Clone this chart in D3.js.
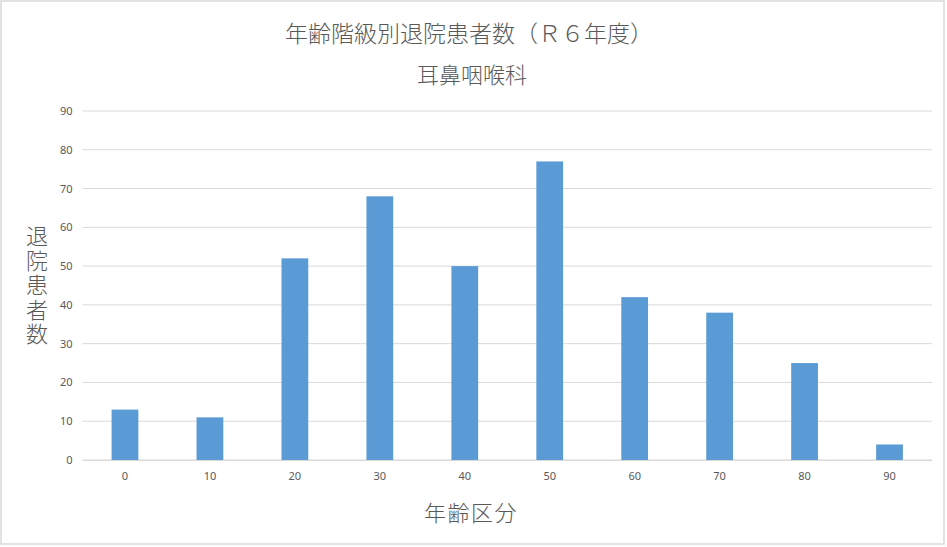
<!DOCTYPE html>
<html><head><meta charset="utf-8">
<script src="https://cdn.jsdelivr.net/npm/d3@7"></script>
<style>
html,body{margin:0;padding:0;background:#fff;}
svg{display:block;}
text{font-family:"Noto Sans CJK JP","Noto Sans",sans-serif;fill:#595959;}
</style></head>
<body>
<svg id="c" width="947" height="547"></svg>
<script>
const categories = ["0","10","20","30","40","50","60","70","80","90"];
const values = [13, 11, 52, 68, 50, 77, 42, 38, 25, 4];
const yTicks = [0,10,20,30,40,50,60,70,80,90];
const title = "年齢階級別退院患者数（Ｒ６年度）";
const subtitle = "耳鼻咽喉科";
const xTitle = "年齢区分";
const yTitle = "退院患者数";

const svg = d3.select("#c");
svg.append("rect").attr("x",1).attr("y",1).attr("width",943).attr("height",543)
  .attr("fill","#fff").attr("stroke","#d9d9d9").attr("stroke-width",1.5);

const pLeft = 82.5, pRight = 932, pTop = 111, pBottom = 460;
const x = d3.scaleBand().domain(categories).range([pLeft, pRight]).paddingInner(0.685).paddingOuter(0.3425);
const y = d3.scaleLinear().domain([0, 90]).range([pBottom, pTop]);

// gridlines
svg.append("g").selectAll("line").data(yTicks).join("line")
  .attr("x1", pLeft).attr("x2", pRight)
  .attr("y1", d => y(d)).attr("y2", d => y(d))
  .attr("stroke", "#d9d9d9").attr("stroke-width", 1);

// y axis labels
const yAxis = d3.axisLeft(y).tickValues(yTicks).tickSize(0).tickPadding(10);
const gy = svg.append("g").attr("transform", `translate(${pLeft},0)`).call(yAxis);
gy.select(".domain").remove();
gy.selectAll("text").style("font-size","11px").style("font-family","'Noto Sans','DejaVu Sans',sans-serif").attr("fill","#595959");

// bars
svg.append("g").selectAll("rect").data(values).join("rect")
  .attr("x", (d,i) => x(categories[i]))
  .attr("width", x.bandwidth())
  .attr("y", d => y(d))
  .attr("height", d => y(0) - y(d))
  .attr("fill", "#5b9bd5");

// x axis
const xAxis = d3.axisBottom(x).tickSize(0).tickPadding(12);
const gx = svg.append("g").attr("transform", `translate(0,${pBottom})`).call(xAxis);
gx.select(".domain").attr("stroke","#d9d9d9").attr("stroke-width",1);
gx.selectAll("text").style("font-size","11px").style("font-family","'Noto Sans','DejaVu Sans',sans-serif").attr("fill","#595959");

// titles
svg.append("text").attr("x", 469).attr("y", 42).attr("text-anchor","middle")
  .style("font-size","23px").style("font-weight","300").text(title);
svg.append("text").attr("x", 472).attr("y", 83).attr("text-anchor","middle")
  .style("font-size","22px").style("font-weight","300").text(subtitle);
svg.append("text").attr("x", 471).attr("y", 521).attr("text-anchor","middle")
  .style("font-size","22px").style("font-weight","300").style("letter-spacing","1.5px").text(xTitle);
svg.append("text").attr("x", 37).attr("y", 225)
  .style("font-size","22px").style("font-weight","300")
  .style("writing-mode","vertical-rl").style("text-orientation","upright")
  .style("letter-spacing","2.5px").text(yTitle);
</script>
</body></html>
